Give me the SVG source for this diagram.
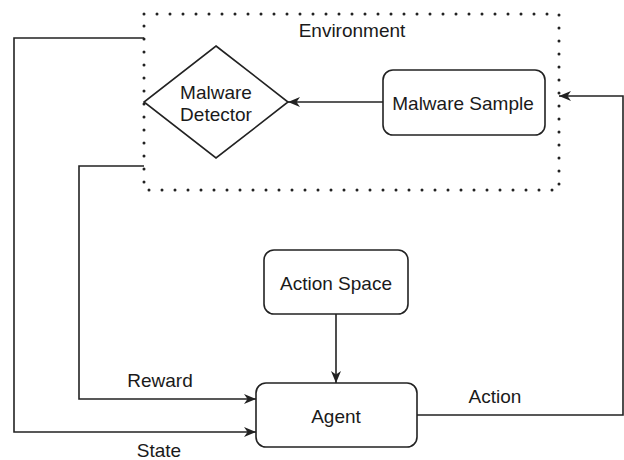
<svg xmlns="http://www.w3.org/2000/svg" width="624" height="460" viewBox="0 0 624 460">
<style>
text{font-family:"Liberation Sans",Arial,sans-serif;font-size:19px;fill:#1a1a1a;text-anchor:middle}
.box{fill:#fff;stroke:#222;stroke-width:1.6}
.edge{fill:none;stroke:#222;stroke-width:1.6}
.env{fill:none;stroke:#222;stroke-width:3;stroke-dasharray:0 13;stroke-linecap:round}
</style>
<defs>
<marker id="arr" markerUnits="userSpaceOnUse" markerWidth="14" markerHeight="12" refX="12" refY="5" orient="auto" viewBox="0 0 14 12">
<path d="M0,0 L12,5 L0,10 L3.5,5 Z" fill="#222"/>
</marker>
</defs>
<g id="environment">
<rect class="env" x="144" y="14" width="415" height="176"/>
<text x="352" y="37">Environment</text>
</g>
<g id="malware-detector">
<polygon class="box" points="216,46 288,102 216,158 144,102"/>
<text x="216" y="99">Malware</text>
<text x="216" y="121">Detector</text>
</g>
<g id="malware-sample">
<rect class="box" x="383" y="70" width="162" height="65" rx="10"/>
<text x="463" y="110">Malware Sample</text>
</g>
<g id="action-space">
<rect class="box" x="264" y="250" width="144" height="64" rx="10"/>
<text x="336" y="290">Action Space</text>
</g>
<g id="agent">
<rect class="box" x="256" y="383" width="161" height="64" rx="10"/>
<text x="336" y="423">Agent</text>
</g>
<g id="connectors">
<path class="edge" d="M383,102 L288,102" marker-end="url(#arr)"/>
<path class="edge" d="M336,314 L336,383" marker-end="url(#arr)"/>
<path class="edge" d="M144,38 L14,38 L14,432 L256,432" marker-end="url(#arr)"/>
<path class="edge" d="M144,166 L79,166 L79,399 L256,399" marker-end="url(#arr)"/>
<path class="edge" d="M417,415 L623,415 L623,96 L559,96" marker-end="url(#arr)"/>
<text x="160" y="387">Reward</text>
<text x="159" y="457">State</text>
<text x="495" y="403">Action</text>
</g>
</svg>
